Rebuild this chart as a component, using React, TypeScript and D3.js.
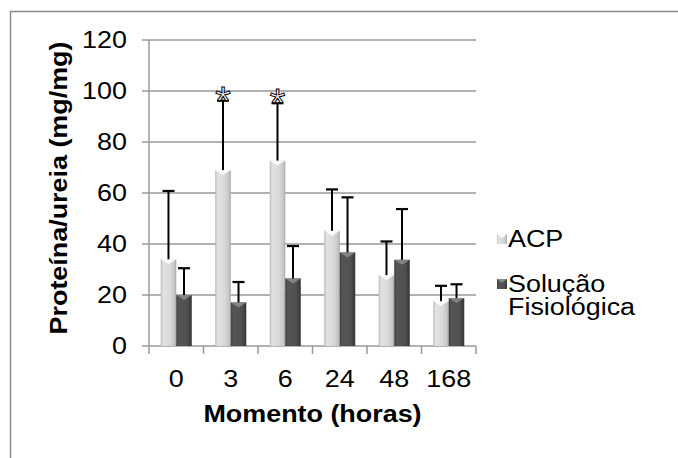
import React from "react";
import * as d3 from "d3";

const categories = ["0", "3", "6", "24", "48", "168"];
const seriesNames = ["ACP", "Solução Fisiológica"];
const acpMean = [34, 69, 72.7, 45.2, 27.8, 17.6];
const acpErr = [26.8, 27.2, 22.5, 16.2, 13.2, 6.0];
const sfMean = [20, 17.1, 26.5, 36.7, 33.8, 18.8];
const sfErr = [10.5, 8.0, 12.7, 21.6, 19.9, 5.4];
const yTicks = [0, 20, 40, 60, 80, 100, 120];
const significant = [false, true, true, false, false, false];

const W = 678;
const H = 458;
const FONT = "Liberation Sans, Arial, sans-serif";
const FS = 23;
const SX = 1.17;

function T(props: {
  x: number;
  y: number;
  anchor?: "start" | "middle" | "end";
  bold?: boolean;
  rotate?: number;
  dy?: string;
  children: React.ReactNode;
}) {
  const { x, y, anchor = "start", bold, rotate = 0, dy, children } = props;
  return (
    <text
      transform={`translate(${x},${y}) rotate(${rotate}) scale(${SX},1)`}
      textAnchor={anchor}
      fontSize={FS}
      fontWeight={bold ? "bold" : "normal"}
      dy={dy}
      fill="#000"
    >
      {children}
    </text>
  );
}

export default function App() {
  const x = d3.scaleBand<string>().domain(categories).range([149, 476]).paddingInner(0.43).paddingOuter(0.215);
  const x1 = d3.scaleBand<number>().domain([0, 1]).range([0, x.bandwidth()]);
  const y = d3.scaleLinear().domain([0, 120]).range([346, 40]);
  const step = x.step();
  const boundaries = d3.range(categories.length + 1).map((i) => 149 + i * step);

  const series = [
    { mean: acpMean, err: acpErr, fill: "url(#gACP)", tri: "#ffffff" },
    { mean: sfMean, err: sfErr, fill: "url(#gSF)", tri: "#8a8a8a" },
  ];

  return (
    <svg width={W} height={H} style={{ position: "absolute", left: 0, top: 0, background: "#fff" }} fontFamily={FONT}>
      <defs>
        <linearGradient id="gACP" x1="0" x2="1" y1="0" y2="0">
          <stop offset="0" stopColor="#b9b9b9" />
          <stop offset="0.15" stopColor="#e2e2e2" />
          <stop offset="0.6" stopColor="#d9d9d9" />
          <stop offset="0.9" stopColor="#c4c4c4" />
          <stop offset="1" stopColor="#9e9e9e" />
        </linearGradient>
        <linearGradient id="gSF" x1="0" x2="1" y1="0" y2="0">
          <stop offset="0" stopColor="#3c3c3c" />
          <stop offset="0.15" stopColor="#555555" />
          <stop offset="0.7" stopColor="#505050" />
          <stop offset="1" stopColor="#353535" />
        </linearGradient>
      </defs>
      <rect x={0} y={0} width={W} height={H} fill="#fff" />
      {/* outer frame */}
      <line x1={10} x2={W} y1={11.5} y2={11.5} stroke="#8c8c8c" strokeWidth={1.5} />
      <line x1={10.5} x2={10.5} y1={11} y2={H} stroke="#8c8c8c" strokeWidth={1.5} />

      {/* gridlines */}
      {yTicks.map((t) => (
        <g key={t}>
          <line x1={149} x2={476} y1={y(t)} y2={y(t)} stroke="#999" strokeWidth={1.5} />
          <line x1={142} x2={149} y1={y(t)} y2={y(t)} stroke="#999" strokeWidth={1.5} />
          <T x={127} y={y(t)} anchor="end" dy="0.36em">
            {t}
          </T>
        </g>
      ))}
      {/* y axis */}
      <line x1={149} x2={149} y1={40} y2={346} stroke="#999" strokeWidth={1.5} />
      {/* x ticks */}
      {boundaries.map((b, i) => (
        <line key={i} x1={b} x2={b} y1={346} y2={354} stroke="#999" strokeWidth={1.5} />
      ))}

      {/* bars */}
      {categories.map((c, i) => (
        <g key={c} transform={`translate(${x(c)},0)`}>
          {series.map((s, k) => {
            const bx = x1(k)!;
            const bw = x1.bandwidth();
            const top = y(s.mean[i]);
            const errTop = y(s.mean[i] + s.err[i]);
            const cx = bx + bw / 2;
            return (
              <g key={k}>
                <rect x={bx} y={top} width={bw} height={y(0) - top} fill={s.fill} />
                <polygon
                  points={`${bx},${top} ${bx + bw},${top} ${cx},${top + 5}`}
                  fill={s.tri}
                  opacity={0.9}
                />
                <line x1={cx} x2={cx} y1={top} y2={errTop} stroke="#000" strokeWidth={2} />
                <line x1={cx - 6} x2={cx + 6} y1={errTop} y2={errTop} stroke="#000" strokeWidth={2.2} />
                {k === 0 && significant[i] ? (
                  <text
                    x={cx}
                    y={errTop + 14}
                    textAnchor="middle"
                    fontSize={40}
                    fill="#fff"
                    stroke="#000"
                    strokeWidth={1}
                  >
                    *
                  </text>
                ) : null}
              </g>
            );
          })}
        </g>
      ))}

      {/* x labels */}
      {categories.map((c) => (
        <T key={c} x={x(c)! + x.bandwidth() / 2} y={387} anchor="middle">
          {c}
        </T>
      ))}
      <T x={312.5} y={422} anchor="middle" bold>
        Momento (horas)
      </T>
      <T x={67} y={188} anchor="middle" bold rotate={-90}>
        Proteína/ureia (mg/mg)
      </T>

      {/* legend */}
      <rect x={497} y={234} width={10} height={10} fill="url(#gACP)" />
      <polygon points="497,234 507,234 502,238" fill="#fff" />
      <T x={508} y={247}>
        {seriesNames[0]}
      </T>
      <rect x={497} y={279} width={10} height={10} fill="url(#gSF)" />
      <polygon points="497,279 507,279 502,283" fill="#8a8a8a" />
      <T x={508} y={292}>
        Solução
      </T>
      <T x={508} y={315}>
        Fisiológica
      </T>
    </svg>
  );
}
